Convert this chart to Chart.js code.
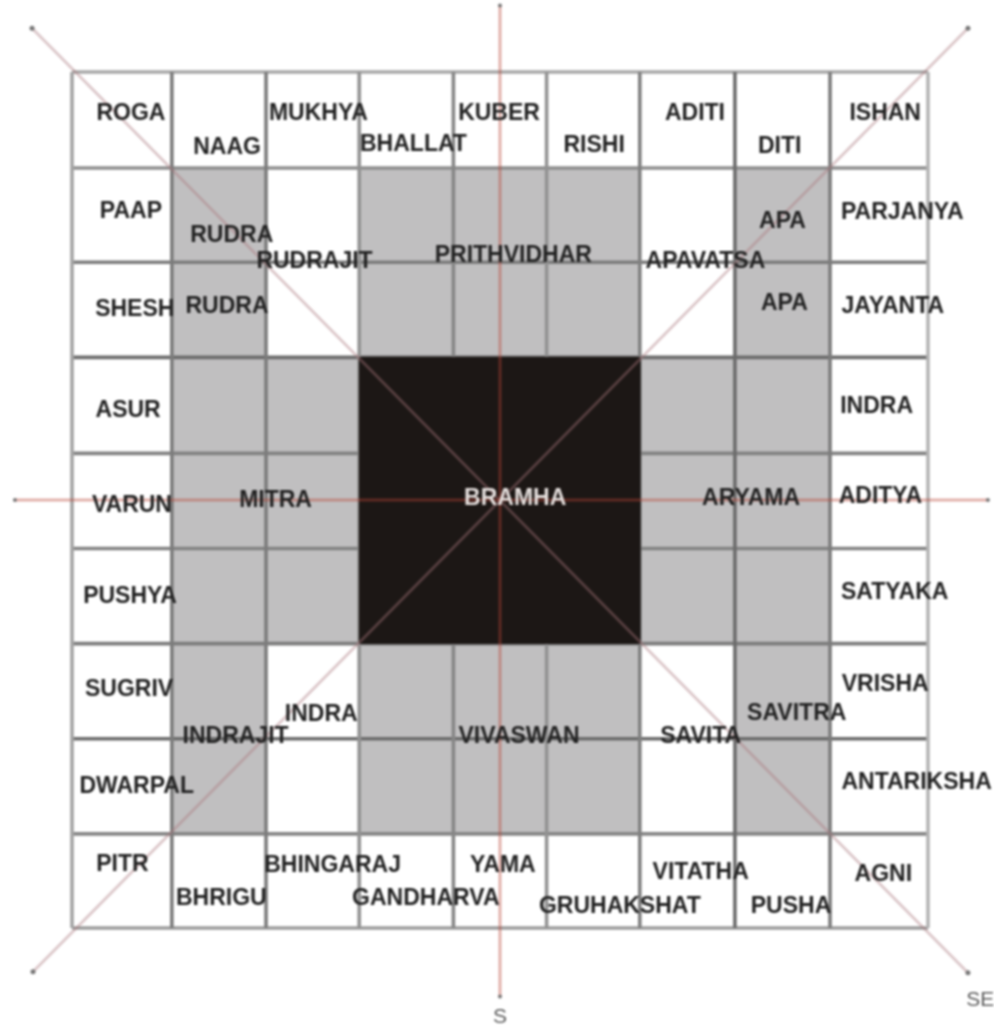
<!DOCTYPE html>
<html>
<head>
<meta charset="utf-8">
<title>Vastu Purush Mandala</title>
<script src="https://cdn.jsdelivr.net/npm/chart.js@4"></script>
<style>
  html, body { margin: 0; padding: 0; background: #fff; }
  canvas { display: block; filter: blur(0.9px); }
</style>
</head>
<body>
<canvas id="mandala" width="994" height="1025"></canvas>
<script>
// grid lines, in cell units
const gridX = [0, 1.05, 2.04, 3.02, 4.01, 4.99, 5.97, 6.97, 7.97, 9];
const gridY = [0, 1.01, 2, 3, 4.01, 5.01, 6.01, 7.01, 8.01, 9];

// grey cells [column, row]
const greyCells = [
  [1, 1], [3, 1], [4, 1], [5, 1], [7, 1],
  [1, 2], [3, 2], [4, 2], [5, 2], [7, 2],
  [1, 3], [2, 3], [6, 3], [7, 3],
  [1, 4], [2, 4], [6, 4], [7, 4],
  [1, 5], [2, 5], [6, 5], [7, 5],
  [1, 6], [3, 6], [4, 6], [5, 6], [7, 6],
  [1, 7], [3, 7], [4, 7], [5, 7], [7, 7]
];
const centreCols = [3, 6];
const centreRows = [3, 6];

// axes and diagonals: [x1, y1, x2, y2]
const axisLines = [
  [4.5, -0.7, 4.5, 9.72],
  [-0.6, 4.5, 9.63, 4.5]
];
const diagonalLines = [
  [-0.42, -0.46, 9.42, 9.47],
  [-0.41, 9.46, 9.42, -0.46]
];

// devas
const labelNames = [
  "ROGA", "NAAG", "MUKHYA", "BHALLAT", "KUBER", "RISHI", "ADITI", "DITI", "ISHAN",
  "PAAP", "RUDRA", "RUDRAJIT", "PRITHVIDHAR", "APAVATSA", "APA", "PARJANYA",
  "SHESH", "RUDRA", "APA", "JAYANTA",
  "ASUR", "INDRA",
  "VARUN", "MITRA", "BRAMHA", "ARYAMA", "ADITYA",
  "PUSHYA", "SATYAKA",
  "SUGRIV", "INDRA", "INDRAJIT", "VIVASWAN", "SAVITA", "SAVITRA", "VRISHA",
  "DWARPAL", "ANTARIKSHA",
  "PITR", "BHRIGU", "BHINGARAJ", "GANDHARVA", "YAMA", "GRUHAKSHAT", "VITATHA", "PUSHA", "AGNI"
];
const labelX = [
  0.62, 1.63, 2.59, 3.59, 4.49, 5.49, 6.55, 7.44, 8.55,
  0.62, 1.68, 2.55, 4.64, 6.66, 7.47, 8.73,
  0.66, 1.63, 7.49, 8.63,
  0.59, 8.46,
  0.63, 2.14, 4.66, 7.14, 8.50,
  0.61, 8.65,
  0.60, 2.62, 1.72, 4.70, 6.61, 7.62, 8.55,
  0.68, 8.88,
  0.53, 1.57, 2.74, 3.72, 4.53, 5.76, 6.61, 7.56, 8.53
];
const labelY = [
  0.44, 0.80, 0.44, 0.76, 0.44, 0.77, 0.44, 0.78, 0.44,
  1.47, 1.72, 1.99, 1.93, 1.99, 1.57, 1.48,
  2.50, 2.47, 2.44, 2.47,
  3.56, 3.52,
  4.56, 4.51, 4.49, 4.49, 4.47,
  5.52, 5.47,
  6.49, 6.76, 6.99, 6.99, 6.99, 6.75, 6.44,
  7.51, 7.47,
  8.33, 8.69, 8.34, 8.69, 8.34, 8.78, 8.42, 8.78, 8.44
];

// compass marks
const compassNames = ["SE", "S"];
const compassX = [9.55, 4.5];
const compassY = [9.76, 9.94];

// shade of each grid line
const shadeX = ["#a4a4a4", "#7c7c7c", "#7c7c7c", "#929292", "#868686", "#929292", "#808080", "#6c6c6c", "#7c7c7c", "#b4b4b4"];
const shadeY = ["#a8a8a8", "#8e8e8e", "#7c7c7c", "#6c6c6c", "#828282", "#828282", "#7c7c7c", "#6c6c6c", "#868686", "#9c9c9c"];

function rect(x1, y1, x2, y2) {
  return [{ x: x1, y: y1 }, { x: x2, y: y1 }, { x: x2, y: y2 }, { x: x1, y: y2 }, { x: x1, y: y1 }];
}

const datasets = [];

greyCells.forEach(([c, r]) => {
  datasets.push({
    data: rect(gridX[c], gridY[r], gridX[c + 1], gridY[r + 1]),
    showLine: true, fill: "shape", backgroundColor: "#c0bfc0",
    borderWidth: 0, pointRadius: 0, order: 6
  });
});

gridX.forEach((x, i) => {
  datasets.push({
    data: [{ x: x, y: gridY[0] }, { x: x, y: gridY[9] }],
    showLine: true, borderColor: shadeX[i], borderWidth: 3.6, pointRadius: 0, order: 5
  });
});
gridY.forEach((y, i) => {
  datasets.push({
    data: [{ x: gridX[0], y: y }, { x: gridX[9], y: y }],
    showLine: true, borderColor: shadeY[i], borderWidth: 3.6, pointRadius: 0, order: 5
  });
});

// Bramha square sits over the grid
datasets.push({
  data: rect(gridX[centreCols[0]], gridY[centreRows[0]], gridX[centreCols[1]], gridY[centreRows[1]]),
  showLine: true, fill: "shape", backgroundColor: "#1c1715",
  borderColor: "#1c1715", borderWidth: 1, pointRadius: 0, order: 4
});

diagonalLines.forEach(l => {
  datasets.push({
    data: [{ x: l[0], y: l[1] }, { x: l[2], y: l[3] }],
    showLine: true, borderColor: "rgba(170,120,125,0.4)", borderWidth: 3,
    pointRadius: 2.5, pointBackgroundColor: "#777", pointBorderWidth: 0, order: 3
  });
});
axisLines.forEach(l => {
  datasets.push({
    data: [{ x: l[0], y: l[1] }, { x: l[2], y: l[3] }],
    showLine: true, borderColor: "rgba(185,70,55,0.42)", borderWidth: 3,
    pointRadius: 2, pointBackgroundColor: "#777", pointBorderWidth: 0, order: 2
  });
});

// names go on last, they overlap the lines
const labelPlugin = {
  id: "labelPlugin",
  afterDatasetsDraw(chart) {
    const { ctx, scales } = chart;
    ctx.save();
    ctx.textAlign = "center";
    ctx.textBaseline = "middle";
    ctx.font = "bold 23px 'Liberation Sans'";
    labelNames.forEach((name, i) => {
      ctx.fillStyle = name === "BRAMHA" ? "#e4dedc" : "#222222";
      ctx.fillText(name, scales.x.getPixelForValue(labelX[i]), scales.y.getPixelForValue(labelY[i]));
    });
    ctx.font = "21px 'Liberation Sans'";
    ctx.fillStyle = "#5c5c5c";
    compassNames.forEach((name, i) => {
      ctx.fillText(name, scales.x.getPixelForValue(compassX[i]), scales.y.getPixelForValue(compassY[i]));
    });
    ctx.restore();
  }
};

new Chart(document.getElementById("mandala"), {
  type: "scatter",
  data: { datasets: datasets },
  plugins: [labelPlugin],
  options: {
    responsive: false,
    animation: false,
    devicePixelRatio: 1,
    layout: { padding: 0, autoPadding: false },
    plugins: {
      legend: { display: false },
      tooltip: { enabled: false },
      title: { display: false }
    },
    scales: {
      x: { display: false, min: -0.757, max: 9.694 },
      y: { display: false, reverse: true, min: -0.757, max: 10.02 }
    }
  }
});
</script>
</body>
</html>
